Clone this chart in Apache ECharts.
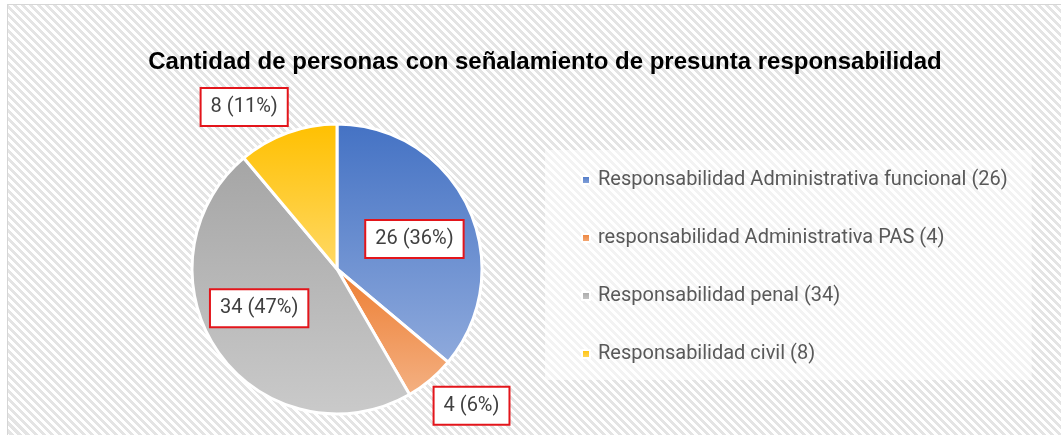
<!DOCTYPE html>
<html>
<head>
    <meta charset="utf-8"/>
    <title>Cantidad de personas con señalamiento de presunta responsabilidad</title>
    <script src="https://cdn.jsdelivr.net/npm/echarts@6/dist/echarts.min.js"></script>
    <style>
        html, body { margin: 0; padding: 0; background: #ffffff; }
        #frame {
            position: absolute; left: 7px; top: 4px; width: 1100px; height: 480px;
            border: 1px solid #d6d6d6;
            background: repeating-linear-gradient(45deg, #ffffff 0px, #ffffff 2.8px, #e4e4e4 2.8px, #e4e4e4 5.66px);
        }
        #main { position: absolute; left: 0; top: 0; width: 1061px; height: 435px; }
    </style>
</head>
<body>
<div id="frame"></div>
<div id="main"></div>
<script>
    // datos
    var categories = [
        'Responsabilidad Administrativa funcional',
        'responsabilidad Administrativa PAS',
        'Responsabilidad penal',
        'Responsabilidad civil'
    ];
    var values = [26, 4, 34, 8];

    // colores (arriba, abajo) por porción
    var topColors = ['#4472C4', '#ED7D31', '#A5A5A5', '#FFC000'];
    var bottomColors = ['#8FAADC', '#F4B183', '#CACACA', '#FFD966'];
    // desplazamiento de etiquetas respecto al centro de la porción
    var labelOffsets = [[9, 2], [86, 79], [-16, -4], [-67, -91]];

    var fontNarrow = "Roboto, 'Liberation Sans', Arial, sans-serif";

    var pieData = [];
    for (var i = 0; i < categories.length; i++) {
        pieData.push({
            name: categories[i],
            value: values[i],
            itemStyle: {
                color: new echarts.graphic.LinearGradient(0, 0, 0, 1, [
                    {offset: 0, color: topColors[i]},
                    {offset: 1, color: bottomColors[i]}
                ])
            },
            label: {offset: labelOffsets[i]}
        });
    }

    var chart = echarts.init(document.getElementById('main'));
    var option = {
        backgroundColor: 'transparent',
        animation: false,
        title: {
            text: 'Cantidad de personas con señalamiento de presunta responsabilidad',
            left: 545,
            top: 50,
            padding: 0,
            textAlign: 'center',
            textStyle: {
                fontFamily: "'Liberation Sans', Arial, sans-serif",
                fontSize: 24,
                fontWeight: 'bold',
                color: '#000000'
            }
        },
        legend: {
            orient: 'vertical',
            left: 545,
            top: 150,
            padding: [18, 24, 14, 36],
            backgroundColor: 'rgba(255,255,255,0.55)',
            itemWidth: 8,
            itemHeight: 8,
            itemGap: 34,
            icon: 'rect',
            selectedMode: false,
            formatter: function (name) {
                var idx = categories.indexOf(name);
                return name + ' (' + values[idx] + ')';
            },
            textStyle: {
                fontFamily: fontNarrow,
                fontSize: 20,
                lineHeight: 24,
                color: '#595959',
                padding: [0, 0, 0, 3]
            },
            data: categories
        },
        series: [{
            type: 'pie',
            center: [337, 269],
            radius: 145,
            startAngle: 90,
            clockwise: true,
            percentPrecision: 0,
            avoidLabelOverlap: false,
            itemStyle: {
                borderColor: '#ffffff',
                borderWidth: 3
            },
            label: {
                show: true,
                position: 'inside',
                formatter: '{c} ({d}%)',
                fontFamily: fontNarrow,
                fontSize: 20,
                lineHeight: 24,
                color: '#404040',
                backgroundColor: '#ffffff',
                borderColor: '#E3151B',
                borderWidth: 2,
                padding: [6, 9, 6, 9]
            },
            labelLine: {show: false},
            emphasis: {disabled: true},
            data: pieData
        }]
    };
    chart.setOption(option);
</script>
</body>
</html>
